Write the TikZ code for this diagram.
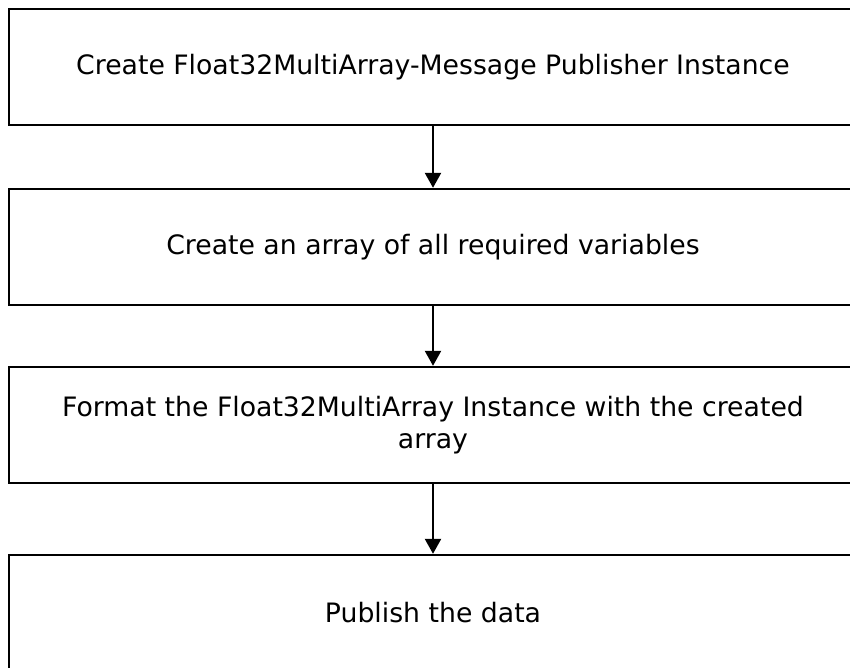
\documentclass[tikz,border=0pt]{standalone}
\usepackage{fontspec}
\setmainfont{DejaVu Sans}
\usetikzlibrary{arrows.meta}
\begin{document}
\begin{tikzpicture}[x=1pt,y=-1pt,line width=2.4pt,>={Triangle[width=16pt,length=15pt]}]
	\tikzset{stepbox/.style={rectangle, draw, fill = white, minimum width=848pt, minimum height=116pt, inner sep=0pt, align=center, font=\fontsize{26.7}{32}\selectfont}}
	\useasboundingbox (0,0) rectangle (850,668);
	\node (S1) at (433,  67)	[stepbox]	{Create Float32MultiArray-Message Publisher Instance};
	\node (S2) at (433, 247)	[stepbox]	{Create an array of all required variables};
	\node (S3) at (433, 425)	[stepbox]	{Format the Float32MultiArray Instance with the created\\array};
	\node (S4) at (433, 613)	[stepbox]	{Publish the data};
	\draw[->] (S1) -- (S2);
	\draw[->] (S2) -- (S3);
	\draw[->] (S3) -- (S4);
\end{tikzpicture}
\end{document}
